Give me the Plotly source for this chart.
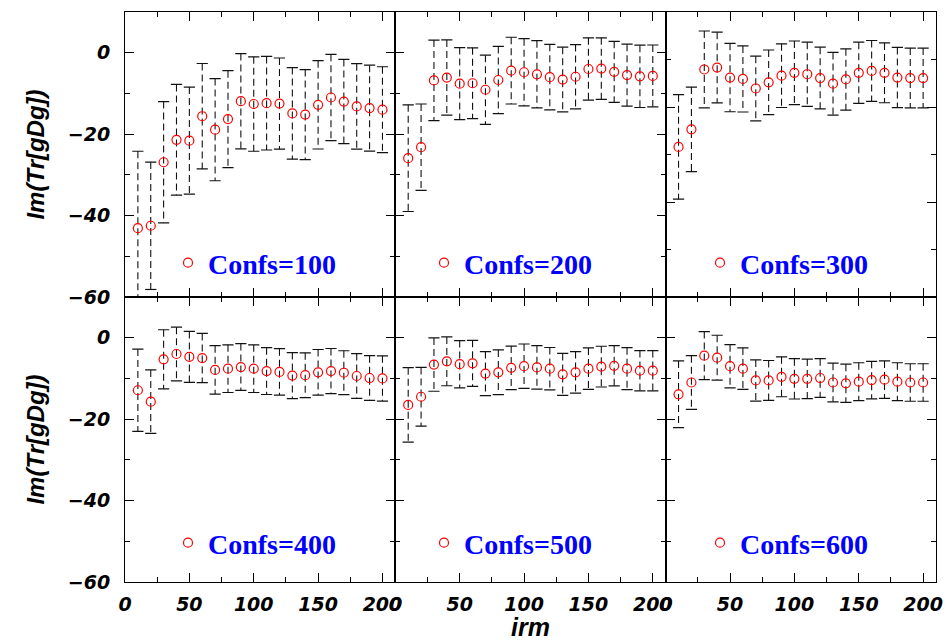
import plotly.graph_objects as go
from plotly.subplots import make_subplots

# ---------------- data ----------------
irm = [10, 20, 30, 40, 50, 60, 70, 80, 90, 100, 110, 120, 130, 140, 150, 160, 170, 180, 190, 200]
confs = [100, 200, 300, 400, 500, 600]

val_100 = [-43.1, -42.5, -26.9, -21.4, -21.6, -15.6, -18.9, -16.3, -11.9, -12.6, -12.4, -12.5, -14.9, -15.2, -12.8, -11.0, -12.0, -13.2, -13.6, -14.0]
err_100 = [18.9, 15.65, 14.9, 13.6, 13.15, 12.95, 12.55, 11.9, 11.7, 11.6, 11.5, 11.2, 11.25, 11.05, 10.85, 10.6, 10.35, 10.5, 10.55, 10.55]

val_200 = [-25.9, -23.2, -6.8, -6.1, -7.6, -7.5, -9.1, -6.7, -4.4, -4.8, -5.3, -6.0, -6.6, -5.9, -4.0, -3.9, -4.7, -5.5, -5.8, -5.7]
err_200 = [13.1, 10.6, 9.9, 9.25, 8.85, 8.7, 8.5, 8.25, 8.2, 8.25, 8.25, 8.05, 7.95, 7.9, 7.65, 7.55, 7.5, 7.6, 7.65, 7.6]

val_300 = [-28.4, -24.7, -12.1, -11.7, -13.8, -14.1, -16.1, -14.8, -13.4, -12.8, -13.1, -13.9, -15.1, -14.2, -12.8, -12.4, -12.8, -13.8, -13.9, -13.9]
err_300 = [11.0, 8.9, 8.1, 7.45, 7.2, 6.95, 6.8, 6.8, 6.7, 6.7, 6.75, 6.5, 6.6, 6.45, 6.45, 6.4, 6.3, 6.35, 6.3, 6.3]

val_400 = [-12.9, -15.7, -5.3, -4.0, -4.7, -5.0, -7.9, -7.6, -7.2, -7.6, -8.2, -8.4, -9.3, -9.2, -8.5, -8.2, -8.6, -9.4, -9.9, -10.0]
err_400 = [10.1, 7.8, 7.25, 6.6, 6.25, 6.05, 5.95, 5.85, 5.75, 5.85, 5.75, 5.7, 5.65, 5.5, 5.6, 5.55, 5.4, 5.5, 5.5, 5.55]

val_500 = [-16.5, -14.5, -6.6, -5.8, -6.5, -6.3, -8.8, -8.5, -7.4, -7.0, -7.3, -7.6, -9.0, -8.5, -7.6, -7.1, -6.9, -7.6, -8.1, -8.1]
err_500 = [9.15, 7.2, 6.55, 6.0, 5.8, 5.65, 5.4, 5.5, 5.35, 5.45, 5.35, 5.2, 5.15, 5.1, 5.1, 5.0, 4.95, 5.15, 4.95, 4.95]

val_600 = [-13.9, -11.0, -4.4, -4.9, -7.0, -7.6, -10.5, -10.5, -9.6, -10.1, -10.1, -9.9, -11.0, -11.2, -10.8, -10.4, -10.3, -10.8, -11.0, -11.0]
err_600 = [8.2, 6.6, 5.9, 5.5, 5.3, 5.1, 5.05, 4.9, 4.9, 4.95, 4.85, 4.75, 4.75, 4.7, 4.65, 4.6, 4.6, 4.65, 4.6, 4.6]

x_tickvals = [0, 50, 100, 150, 200]
x_minor = [25, 75, 125, 175]
y_tickvals = [0, -20, -40, -60]
y_minor = [-10, -30, -50]
x_title = "irm"
y_title = "Im(Tr[gDg])"

values = [val_100, val_200, val_300, val_400, val_500, val_600]
errors = [err_100, err_200, err_300, err_400, err_500, err_600]
y_ranges = [[-60, 10], [-60, 10], [-60, 0], [-60, 10], [-60, 10], [-60, 10]]

# ---------------- figure ----------------
W, H = 951, 641
ml, mr, mt, mb = 125, 15, 12, 59

fig = make_subplots(rows=2, cols=3, horizontal_spacing=0, vertical_spacing=0)

tickfont = dict(family="DejaVu Sans", size=19, color="black", weight="bold", style="italic")
titlefont = dict(family="Liberation Sans", size=24, color="black", weight="bold", style="italic")

legend_circle_px = [(190, 263), (446, 263), (722, 263), (190, 543), (446, 543), (722, 543)]

for k in range(6):
    r = k // 3 + 1
    c = k % 3 + 1
    vals = values[k]
    errs = errors[k]
    seg_x, seg_y, cap_x, cap_y = [], [], [], []
    for xi, v, e in zip(irm, vals, errs):
        seg_x += [xi, xi, None]
        seg_y += [v + e, v - e, None]
        cap_x += [xi, xi]
        cap_y += [v + e, v - e]
    fig.add_trace(go.Scatter(x=seg_x, y=seg_y, mode="lines",
                             line=dict(color="#111111", width=1.1, dash="7px,4px"),
                             showlegend=False, hoverinfo="skip"), row=r, col=c)
    fig.add_trace(go.Scatter(x=cap_x, y=cap_y, mode="markers",
                             marker=dict(symbol="line-ew", size=8, color="#111111",
                                         line=dict(color="#111111", width=1.2)),
                             showlegend=False, hoverinfo="skip"), row=r, col=c)
    lname = "legend" if k == 0 else f"legend{k+1}"
    fig.add_trace(go.Scatter(x=irm, y=vals, mode="markers",
                             name=f"Confs={confs[k]}",
                             marker=dict(symbol="circle-open", size=9, color="red",
                                         line=dict(color="red", width=1.2)),
                             legend=lname, showlegend=True), row=r, col=c)

    cx, cy = legend_circle_px[k]
    lx = (cx - 22 - ml) / (W - ml - mr)
    ly = (H - mb - cy) / (H - mt - mb)
    fig.update_layout({lname: dict(x=lx, y=ly, xanchor="left", yanchor="middle",
                                   bgcolor="rgba(0,0,0,0)", borderwidth=0,
                                   font=dict(family="Liberation Serif", size=28,
                                             color="#0000ff", weight="bold"),
                                   itemclick=False, itemdoubleclick=False)})

    fig.update_xaxes(row=r, col=c, range=[0, 210], tickvals=x_tickvals,
                     showticklabels=(r == 2), ticks="inside", ticklen=9, tickwidth=1,
                     tickcolor="black", showline=True, linecolor="black", linewidth=1,
                     mirror="ticks", showgrid=False, zeroline=False, automargin=False,
                     tickfont=tickfont, ticklabelstandoff=5,
                     minor=dict(tickvals=x_minor, ticks="inside", ticklen=5,
                                tickcolor="black", tickwidth=1))
    yr = y_ranges[k]
    fig.update_yaxes(row=r, col=c, range=yr, tickvals=y_tickvals,
                     showticklabels=(c == 1), ticks="inside", ticklen=9, tickwidth=1,
                     tickcolor="black", showline=True, linecolor="black", linewidth=1,
                     mirror="ticks", showgrid=False, zeroline=False, automargin=False,
                     tickfont=tickfont, ticklabelstandoff=10,
                     minor=dict(tickvals=y_minor, ticks="inside", ticklen=5,
                                tickcolor="black", tickwidth=1))
    if c == 1:
        fig.update_yaxes(row=r, col=c, title=dict(text=y_title, font=titlefont, standoff=16))
    if r == 2 and c == 2:
        fig.update_xaxes(row=r, col=c, title=dict(text=x_title, font=dict(titlefont, size=25), standoff=12))

fig.update_layout(width=W, height=H, margin=dict(l=ml, r=mr, t=mt, b=mb, autoexpand=False),
                  plot_bgcolor="white", paper_bgcolor="white")

fig.write_html("out.html")
